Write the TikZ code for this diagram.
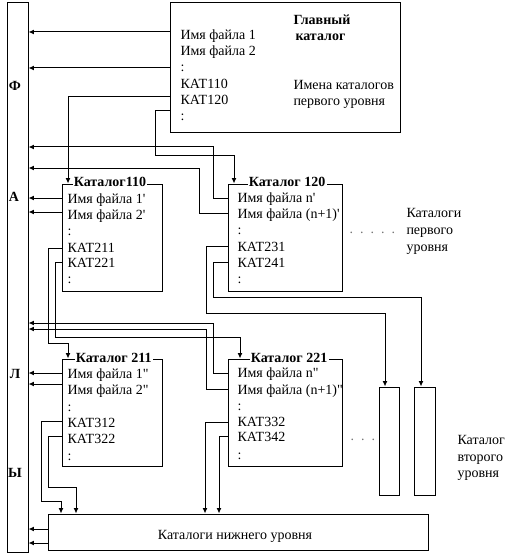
\documentclass[tikz,border=0pt]{standalone}
\usepackage{fontspec}
\setmainfont{Liberation Serif}
\usetikzlibrary{arrows.meta,fit}
\newcommand\myfs{\fontsize{10.5}{12.5}\selectfont}
\newcommand\sq{\textquotesingle}
\newcommand\dq{\textquotedbl}
\begin{document}
\begin{tikzpicture}[x=0.75pt,y=-0.75pt,line width=0.75pt,
  box/.style={draw,fill=white,inner sep=0pt},
  txt/.style={anchor=base west,inner sep=0pt,font=\myfs},
  ttl/.style={anchor=base west,fill=white,inner xsep=1pt,inner ysep=0.6pt,font=\myfs\bfseries},
  lbl/.style={anchor=base,inner sep=0pt,font=\myfs\bfseries},
  dotrow/.style={anchor=base west,inner sep=0pt,font=\myfs,text=black!55},
  arr/.style={-{Latex[length=4pt,width=3.6pt]}}]
\useasboundingbox (0,0) rectangle (516,556);

% boxes
\node[box,fit={(7,3)(28,552)}] (col) {};
\node[box,fit={(170,3)(400,133)}] (main) {};
\node[box,fit={(62,184)(162,291)}] (k110) {};
\node[box,fit={(228,184)(342,291)}] (k120) {};
\node[box,fit={(62,359)(162,466)}] (k211) {};
\node[box,fit={(228,359)(342,466)}] (k221) {};
\node[box,fit={(379,387)(399,495)}] (s1) {};
\node[box,fit={(414,387)(435,495)}] (s2) {};
\node[box,fit={(48,514)(428,550)}] (low) {};

% left column letters
\node[lbl] (lf) at (15,90.5) {Ф};
\node[lbl] (la) at (14,201.5) {А};
\node[lbl] (ll) at (15,378.5) {Л};
\node[lbl] (ly) at (15,477.5) {Ы};

% main catalog
\node[txt] (m1) at (180,40) {Имя файла 1};
\node[txt] (m2) at (180,56) {Имя файла 2};
\node[txt] (m3) at (180,72) {:};
\node[txt] (m4) at (180,89) {КАТ110};
\node[txt] (m5) at (180,105) {КАТ120};
\node[txt] (m6) at (180,121) {:};
\node[txt,font=\myfs\bfseries] (mt1) at (293,24.5) {Главный};
\node[txt,font=\myfs\bfseries] (mt2) at (295,41) {каталог};
\node[txt] (mi1) at (293,89.5) {Имена каталогов};
\node[txt] (mi2) at (293,105.5) {первого уровня};

% catalog 110
\node[ttl] (t110) at (72,186) {Каталог110};
\node[txt] (a1) at (67,203.5) {Имя файла 1\sq};
\node[txt] (a2) at (67,219.5) {Имя файла 2\sq};
\node[txt] (a3) at (67,235.5) {:};
\node[txt] (a4) at (67,252.5) {КАТ211};
\node[txt] (a5) at (67,267.5) {КАТ221};
\node[txt] (a6) at (67,283.5) {:};

% catalog 120
\node[ttl] (t120) at (247,186.5) {Каталог 120};
\node[txt] (b1) at (237,202.5) {Имя файла n\sq};
\node[txt] (b2) at (237,218.5) {Имя файла (n+1)\sq};
\node[txt] (b3) at (237,234.5) {:};
\node[txt] (b4) at (237,251) {КАТ231};
\node[txt] (b5) at (237,267) {КАТ241};
\node[txt] (b6) at (237,283) {:};

% catalog 211
\node[ttl] (t211) at (74,362) {Каталог 211};
\node[txt] (c1) at (67,378.5) {Имя файла 1\dq};
\node[txt] (c2) at (67,394.5) {Имя файла 2\dq};
\node[txt] (c3) at (67,411) {:};
\node[txt] (c4) at (67,427.5) {КАТ312};
\node[txt] (c5) at (67,443.5) {КАТ322};
\node[txt] (c6) at (67,460) {:};

% catalog 221
\node[ttl] (t221) at (249,362) {Каталог 221};
\node[txt] (d1) at (237,377.5) {Имя файла n\dq};
\node[txt] (d2) at (237,394.5) {Имя файла (n+1)\dq};
\node[txt] (d3) at (237,410) {:};
\node[txt] (d4) at (237,426.5) {КАТ332};
\node[txt] (d5) at (237,441.5) {КАТ342};
\node[txt] (d6) at (237,459) {:};

% side labels
\node[dotrow] (dots1) at (349,233) {.~~.~~.~~.~~.};
\node[txt] (r1) at (406,217.5) {Каталоги};
\node[txt] (r2) at (406,234) {первого};
\node[txt] (r3) at (406,251) {уровня};
\node[dotrow] (dots2) at (350,440) {.~~.~~.};
\node[txt] (q1) at (457,444.5) {Каталог};
\node[txt] (q2) at (457,461.5) {второго};
\node[txt] (q3) at (457,477.5) {уровня};
\node[anchor=base,inner sep=0pt,font=\myfs] (lowt) at (235,539.5) {Каталоги нижнего уровня};

% connectors: main catalog
\draw[arr] (main.west |- 0,32) -- (col.east |- 0,32);
\draw[arr] (main.west |- 0,68) -- (col.east |- 0,68);
\draw[arr] (main.west |- 0,97) -| (68,0 |- k110.north);
\draw[arr] (main.west |- 0,111) -| (155,155) -| (234,0 |- k120.north);

% catalog 110
\draw[arr] (k110.west |- 0,198) -- (col.east |- 0,198);
\draw[arr] (k110.west |- 0,212) -- (col.east |- 0,212);
\draw[arr] (k110.west |- 0,248) -| (48,343) -| (68,0 |- k211.north);
\draw[arr] (k110.west |- 0,262) -| (55,337) -| (240,0 |- k221.north);

% catalog 120
\draw[arr] (k120.west |- 0,198) -| (213,147) -- (col.east |- 0,147);
\draw[arr] (k120.west |- 0,213) -| (199,168) -- (col.east |- 0,168);
\draw[arr] (k120.west |- 0,246) -| (206,313) -| (385,0 |- s1.north);
\draw[arr] (k120.west |- 0,262) -| (213,297) -| (421,0 |- s2.north);

% catalog 211
\draw[arr] (k211.west |- 0,373) -- (col.east |- 0,373);
\draw[arr] (k211.west |- 0,384) -- (col.east |- 0,384);
\draw[arr] (k211.west |- 0,421) -| (41,501) -| (61,0 |- low.north);
\draw[arr] (k211.west |- 0,436) -| (48,487) -| (76,0 |- low.north);

% catalog 221
\draw[arr] (k221.west |- 0,373) -| (213,323) -- (col.east |- 0,323);
\draw[arr] (k221.west |- 0,389) -| (206,329) -- (col.east |- 0,329);
\draw[arr] (k221.west |- 0,422) -| (205,0 |- low.north);
\draw[arr] (k221.west |- 0,436) -| (219,0 |- low.north);

% lower level
\draw[arr] (low.west |- 0,529) -- (col.east |- 0,529);
\draw[arr] (low.west |- 0,543) -- (col.east |- 0,543);
\end{tikzpicture}
\end{document}
